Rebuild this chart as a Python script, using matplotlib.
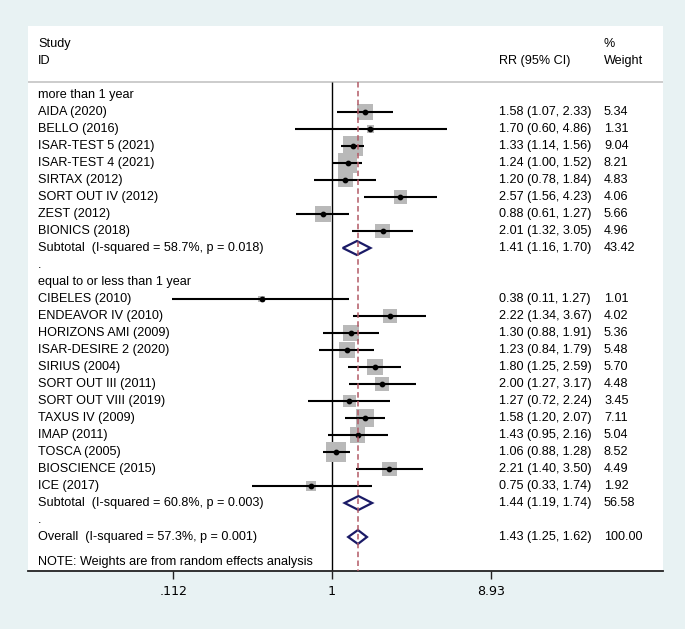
import numpy as np
import matplotlib.pyplot as plt
from matplotlib.patches import Polygon
from matplotlib.transforms import blended_transform_factory

# ---- data ------------------------------------------------------------
g1_label = "more than 1 year"
g1_names = ["AIDA (2020)", "BELLO (2016)", "ISAR-TEST 5 (2021)", "ISAR-TEST 4 (2021)",
            "SIRTAX (2012)", "SORT OUT IV (2012)", "ZEST (2012)", "BIONICS (2018)"]
g1_rr = [1.58, 1.70, 1.33, 1.24, 1.20, 2.57, 0.88, 2.01]
g1_lo = [1.07, 0.60, 1.14, 1.00, 0.78, 1.56, 0.61, 1.32]
g1_hi = [2.33, 4.86, 1.56, 1.52, 1.84, 4.23, 1.27, 3.05]
g1_w = [5.34, 1.31, 9.04, 8.21, 4.83, 4.06, 5.66, 4.96]
g1_sub = [1.41, 1.16, 1.70, 43.42]
g1_het = "Subtotal  (I-squared = 58.7%, p = 0.018)"

g2_label = "equal to or less than 1 year"
g2_names = ["CIBELES (2010)", "ENDEAVOR IV (2010)", "HORIZONS AMI (2009)", "ISAR-DESIRE 2 (2020)",
            "SIRIUS (2004)", "SORT OUT III (2011)", "SORT OUT VIII (2019)", "TAXUS IV (2009)",
            "IMAP (2011)", "TOSCA (2005)", "BIOSCIENCE (2015)", "ICE (2017)"]
g2_rr = [0.38, 2.22, 1.30, 1.23, 1.80, 2.00, 1.27, 1.58, 1.43, 1.06, 2.21, 0.75]
g2_lo = [0.11, 1.34, 0.88, 0.84, 1.25, 1.27, 0.72, 1.20, 0.95, 0.88, 1.40, 0.33]
g2_hi = [1.27, 3.67, 1.91, 1.79, 2.59, 3.17, 2.24, 2.07, 2.16, 1.28, 3.50, 1.74]
g2_w = [1.01, 4.02, 5.36, 5.48, 5.70, 4.48, 3.45, 7.11, 5.04, 8.52, 4.49, 1.92]
g2_sub = [1.44, 1.19, 1.74, 56.58]
g2_het = "Subtotal  (I-squared = 60.8%, p = 0.003)"

overall = [1.43, 1.25, 1.62, 100.00]
overall_het = "Overall  (I-squared = 57.3%, p = 0.001)"
note = "NOTE: Weights are from random effects analysis"

xticks = [0.112, 1, 8.93]
xtick_labels = [".112", "1", "8.93"]

# ---- figure ----------------------------------------------------------
W, H = 685, 629
bg = "#e8f2f3"
fig = plt.figure(figsize=(W / 100, H / 100), dpi=100, facecolor=bg)
ax = fig.add_axes([28 / W, 1 - 571 / H, (663 - 28) / W, (571 - 26) / H])
ax.set_facecolor("white")

px_per_log = 72.5
ax.set_xscale("log")
ax.set_xlim(np.exp((28 - 332) / px_per_log), np.exp((663 - 332) / px_per_log))
row_px = 17.0
ax.set_ylim((571 - 95) / row_px, (26 - 95) / row_px)

plt.rcParams["font.family"] = ["Liberation Sans", "DejaVu Sans"]
fs = 9.1
tr = blended_transform_factory(ax.transAxes, ax.transData)
x_lab, x_rr, x_w = 10 / 635, 471 / 635, 576 / 635

diamond_col = "#1a1a66"
box_col = "#b9b9b9"


def row_text(y, label, est=None):
    ax.text(x_lab, y, label, transform=tr, fontsize=fs, va="center", ha="left")
    if est is not None:
        rr, lo, hi, w = est
        ax.text(x_rr, y, f"{rr:.2f} ({lo:.2f}, {hi:.2f})", transform=tr,
                fontsize=fs, va="center", ha="left")
        ax.text(x_w, y, f"{w:.2f}", transform=tr, fontsize=fs, va="center", ha="left")


def study_rows(y0, names, rr, lo, hi, w):
    ys = y0 + np.arange(len(names))
    ax.hlines(ys, lo, hi, color="black", lw=1.5, zorder=3)
    ax.scatter(rr, ys, s=np.array(w) * 23.3, marker="s", color=box_col,
               edgecolors="none", zorder=2)
    ax.scatter(rr, ys, s=10, marker="o", color="black", zorder=4)
    for y, n, a, b, c, d in zip(ys, names, rr, lo, hi, w):
        row_text(y, n, (a, b, c, d))
    return ys[-1] + 1


def diamond(y, est):
    rr, lo, hi, w = est
    h = 0.41
    ax.add_patch(Polygon([(lo, y), (rr, y - h), (hi, y), (rr, y + h)], closed=True,
                         facecolor="white", edgecolor=diamond_col, lw=1.6, zorder=5))


# header
ax.text(x_lab, -3, "Study", transform=tr, fontsize=fs, va="center")
ax.text(x_lab, -2, "ID", transform=tr, fontsize=fs, va="center")
ax.text(x_rr, -2, "RR (95% CI)", transform=tr, fontsize=fs, va="center")
ax.text(x_w, -3, "%", transform=tr, fontsize=fs, va="center")
ax.text(x_w, -2, "Weight", transform=tr, fontsize=fs, va="center")
y_hdr = (82 - 95) / row_px
ax.axhline(y_hdr, color="#c8c8c8", lw=1.3, zorder=1)

# reference lines
ax.vlines(1, y_hdr, 28, color="black", lw=1.0, zorder=1)
ax.vlines(overall[0], y_hdr, 28, color="#b35a66", lw=1.1, linestyles=(0, (3.6, 2.2)), zorder=6)

y = 0
row_text(y, g1_label)
y = study_rows(y + 1, g1_names, g1_rr, g1_lo, g1_hi, g1_w)
row_text(y, g1_het, g1_sub)
diamond(y, g1_sub)
row_text(y + 1, ".")
y += 2
row_text(y, g2_label)
y = study_rows(y + 1, g2_names, g2_rr, g2_lo, g2_hi, g2_w)
row_text(y, g2_het, g2_sub)
diamond(y, g2_sub)
row_text(y + 1, ".")
y += 2
row_text(y, overall_het, overall)
diamond(y, overall)
ax.text(x_lab, y + 1.47, note, transform=tr, fontsize=fs, va="center")

# axes
for s in ["top", "right", "left"]:
    ax.spines[s].set_visible(False)
ax.spines["bottom"].set_linewidth(1.3)
ax.spines["bottom"].set_color("#222222")
ax.set_yticks([])
ax.set_xticks(xticks)
ax.set_xticklabels(xtick_labels, fontsize=fs)
ax.minorticks_off()
ax.tick_params(axis="x", length=5.8, width=1.0, pad=4.5, color="#222222")

fig.savefig("out.png", dpi=100, facecolor=bg)
